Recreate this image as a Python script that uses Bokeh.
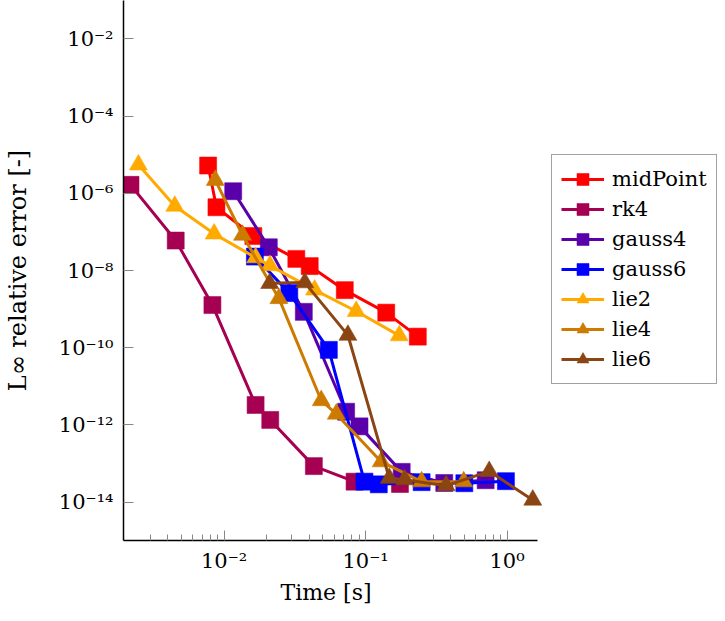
from bokeh.plotting import figure
from bokeh.models import FixedTicker, Legend, LegendItem, Range1d, Title
from bokeh.embed import file_html
from bokeh.resources import INLINE

# ---- data ----
series_names = ["midPoint", "rk4", "gauss4", "gauss6", "lie2", "lie4", "lie6"]

midpoint_t = [0.00771, 0.00883, 0.0161, 0.0324, 0.0403, 0.0713, 0.140, 0.234]
midpoint_err = [5.22e-6, 4.34e-7, 7.78e-8, 2.0e-8, 1.3e-8, 3.1e-9, 8.1e-10, 1.94e-10]

rk4_t = [0.00218, 0.00455, 0.00827, 0.0167, 0.0212, 0.0431, 0.0836, 0.175]
rk4_err = [1.65e-6, 5.96e-8, 1.27e-9, 3.3e-12, 1.35e-12, 8.6e-14, 3.4e-14, 2.96e-14]

gauss4_t = [0.0116, 0.0207, 0.0366, 0.0729, 0.0906, 0.180, 0.360, 0.706]
gauss4_err = [1.13e-6, 3.99e-8, 8.5e-10, 2.2e-12, 9.2e-13, 6.1e-14, 3.14e-14, 3.7e-14]

gauss6_t = [0.0165, 0.0289, 0.0550, 0.0982, 0.124, 0.249, 0.499, 0.982]
gauss6_err = [2.29e-8, 2.6e-9, 8.8e-11, 3.4e-14, 2.9e-14, 3.3e-14, 3.1e-14, 3.5e-14]

lie2_t = [0.00248, 0.00448, 0.00851, 0.0167, 0.0211, 0.0436, 0.0859, 0.173]
lie2_err = [5.47e-6, 4.66e-7, 8.9e-8, 2.16e-8, 1.34e-8, 3.14e-9, 8.8e-10, 2.06e-10]

lie4_t = [0.00866, 0.0135, 0.0244, 0.0486, 0.0621, 0.129, 0.249, 0.494]
lie4_err = [2.18e-6, 8.26e-8, 1.89e-9, 4.3e-12, 1.93e-12, 1.12e-13, 3.4e-14, 3.4e-14]

lie6_t = [0.0210, 0.0372, 0.0750, 0.147, 0.189, 0.371, 0.748, 1.52]
lie6_err = [4.66e-9, 4.86e-9, 2.12e-10, 4.2e-14, 3.83e-14, 2.68e-14, 6.3e-14, 1.14e-14]

x_ticks = [0.01, 0.1, 1.0]
x_tick_labels = ["10⁻²", "10⁻¹", "10⁰"]
x_minor_ticks = [0.003, 0.004, 0.005, 0.006, 0.007, 0.008, 0.009,
                 0.02, 0.03, 0.04, 0.05, 0.06, 0.07, 0.08, 0.09,
                 0.2, 0.3, 0.4, 0.5, 0.6, 0.7, 0.8, 0.9]
y_ticks = [1e-2, 1e-4, 1e-6, 1e-8, 1e-10, 1e-12, 1e-14]
y_tick_labels = ["10⁻²", "10⁻⁴", "10⁻⁶", "10⁻⁸", "10⁻¹⁰", "10⁻¹²", "10⁻¹⁴"]

x_title = "Time [s]"
y_title = "L∞ relative error [-]"

# axis extents (log10 decades)
x_axis_min, x_axis_max = 10 ** -2.711, 10 ** 0.218
y_axis_min, y_axis_max = 10 ** -14.992, 10 ** -1.008

# ---- styles ----
colors = ["#ff0000", "#a50052", "#5a00aa", "#0000ff", "#ffaa00", "#cc7a00", "#8b4513"]
markers = ["square", "square", "square", "square", "triangle", "triangle", "triangle"]
marker_sizes = [17, 17, 17, 17, 18, 18, 18]

xs = [midpoint_t, rk4_t, gauss4_t, gauss6_t, lie2_t, lie4_t, lie6_t]
ys = [midpoint_err, rk4_err, gauss4_err, gauss6_err, lie2_err, lie4_err, lie6_err]

FONT = "DejaVu Serif"

# the frame extends to the right edge so the legend can sit inside it;
# the x axis line is bounded to the data extent
p = figure(
    x_axis_type="log", y_axis_type="log",
    x_range=Range1d(x_axis_min, 10 ** 1.537),
    y_range=Range1d(y_axis_min, y_axis_max),
    width=724, height=620,
    min_border_left=122, min_border_top=0, min_border_bottom=80, min_border_right=0,
    output_backend="svg", toolbar_location=None,
    background_fill_color="white", border_fill_color="white",
)
p.outline_line_color = None
p.grid.visible = False

items = []
for name, x, y, c, m, s in zip(series_names, xs, ys, colors, markers, marker_sizes):
    lr = p.line(x, y, line_color=c, line_width=3)
    sr = p.scatter(x, y, marker=m, size=s, fill_color=c, line_color=c,
                   line_alpha=0.55, line_width=1)
    items.append(LegendItem(label=name, renderers=[lr, sr]))

# axes
for ax in (p.xaxis[0], p.yaxis[0]):
    ax.axis_line_color = "black"
    ax.axis_line_width = 1.5
    ax.major_tick_in = 10
    ax.major_tick_out = 0
    ax.minor_tick_in = 6
    ax.minor_tick_out = 0
    ax.major_tick_line_color = "#888888"
    ax.minor_tick_line_color = "#888888"
    ax.major_label_text_font = FONT
    ax.major_label_text_font_size = "21px"
    ax.major_label_text_color = "black"
    ax.axis_label_text_font = FONT
    ax.axis_label_text_font_size = "24px"
    ax.axis_label_text_font_style = "normal"
    ax.axis_label_text_color = "black"

p.xaxis.bounds = (x_axis_min, x_axis_max)
p.xaxis.ticker = FixedTicker(ticks=x_ticks, minor_ticks=x_minor_ticks)
p.xaxis.major_label_overrides = dict(zip(x_ticks, x_tick_labels))
p.xaxis.major_label_standoff = 8

p.yaxis.ticker = FixedTicker(ticks=y_ticks, minor_ticks=[])
p.yaxis.major_label_overrides = dict(zip(y_ticks, y_tick_labels))
p.yaxis.minor_tick_line_color = None
p.yaxis.axis_label = y_title
p.yaxis.major_label_standoff = 10
p.yaxis.axis_label_standoff = 24

# x-axis title placed under the bounded axis as a panel title
p.add_layout(Title(
    text=x_title, align="left", offset=157, standoff=4,
    text_font=FONT, text_font_size="22px", text_font_style="normal",
    text_color="black",
), "below")

legend = Legend(
    items=items, location=(428, 156),
    glyph_width=43, glyph_height=30, label_standoff=8, padding=9, spacing=0,
    border_line_color="#444444", border_line_width=1,
    label_text_font=FONT, label_text_font_size="21px", label_text_color="black",
    background_fill_color="white",
)
p.add_layout(legend, "center")

open("out.html", "w").write(file_html(p, INLINE))
